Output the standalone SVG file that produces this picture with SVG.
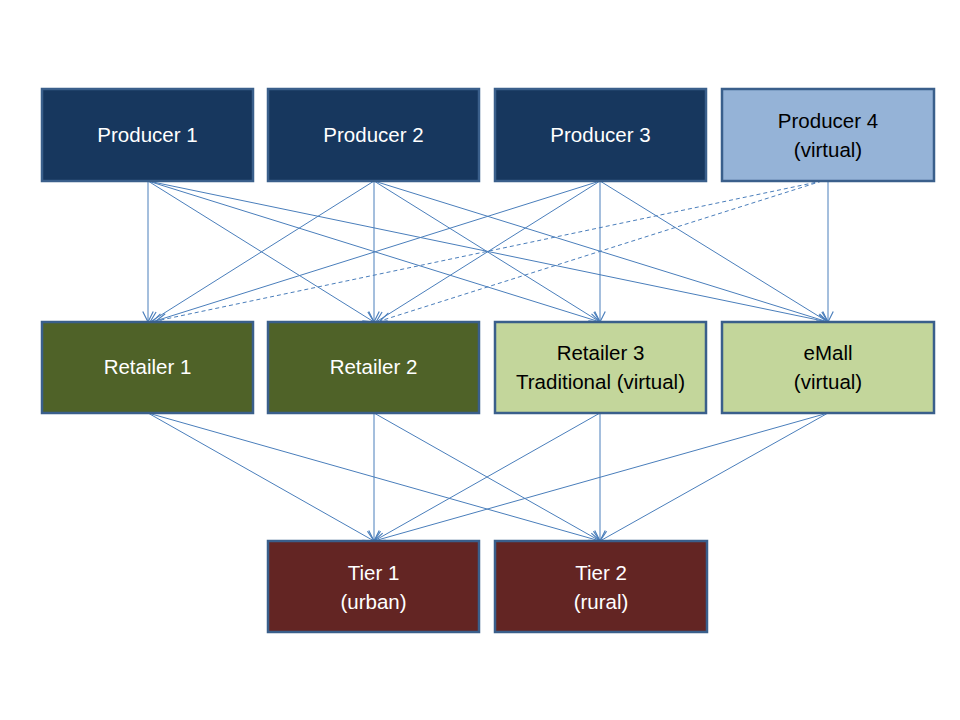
<svg xmlns="http://www.w3.org/2000/svg" width="960" height="720" viewBox="0 0 960 720">
<style>
.box{stroke:#3A5F8B;stroke-width:2.5}
.dark{fill:#17375E}
.light{fill:#95B3D7}
.rdark{fill:#4F6228}
.rlight{fill:#C3D69B}
.tier{fill:#632523}
.tw{font-family:"Liberation Sans",Arial,sans-serif;font-size:20.5px;fill:#FFFFFF;text-anchor:middle}
.tb{font-family:"Liberation Sans",Arial,sans-serif;font-size:20.5px;fill:#000000;text-anchor:middle}
.c{stroke:#4A7EBB;stroke-width:1;fill:none;marker-end:url(#ah)}
.d{stroke-dasharray:4,3}
</style>
<defs>
<marker id="ah" markerUnits="userSpaceOnUse" markerWidth="14" markerHeight="14" viewBox="-10 -6 12 12" refX="0" refY="0" orient="auto">
<path d="M-9,-4.5 L0,0 L-9,4.5" fill="none" stroke="#4A7EBB" stroke-width="1"/>
</marker>
</defs>
<rect width="960" height="720" fill="#FFFFFF"/>
<g id="connectors">
<line class="c" x1="148" y1="181" x2="148" y2="322"/>
<line class="c" x1="148" y1="181" x2="374" y2="322"/>
<line class="c" x1="148" y1="181" x2="600" y2="322"/>
<line class="c" x1="148" y1="181" x2="828" y2="322"/>
<line class="c" x1="374" y1="181" x2="150" y2="322"/>
<line class="c" x1="374" y1="181" x2="374" y2="322"/>
<line class="c" x1="374" y1="181" x2="600" y2="322"/>
<line class="c" x1="374" y1="181" x2="828" y2="322"/>
<line class="c" x1="600" y1="181" x2="152" y2="322"/>
<line class="c" x1="600" y1="181" x2="376" y2="322"/>
<line class="c" x1="600" y1="181" x2="600" y2="322"/>
<line class="c" x1="600" y1="181" x2="828" y2="322"/>
<line class="c d" x1="822" y1="181" x2="156" y2="321"/>
<line class="c d" x1="822" y1="181" x2="380" y2="321"/>
<line class="c" x1="828" y1="181" x2="828" y2="322"/>
<line class="c" x1="148" y1="413" x2="374" y2="541"/>
<line class="c" x1="148" y1="413" x2="600" y2="541"/>
<line class="c" x1="374" y1="413" x2="374" y2="541"/>
<line class="c" x1="374" y1="413" x2="600" y2="541"/>
<line class="c" x1="600" y1="413" x2="374" y2="541"/>
<line class="c" x1="600" y1="413" x2="600" y2="541"/>
<line class="c" x1="828" y1="413" x2="374" y2="541"/>
<line class="c" x1="828" y1="413" x2="600" y2="541"/>
</g>
<g id="producer1"><rect class="box dark" x="42" y="89" width="211" height="92"/><text class="tw" x="147.5" y="142">Producer 1</text></g>
<g id="producer2"><rect class="box dark" x="268" y="89" width="211" height="92"/><text class="tw" x="373.5" y="142">Producer 2</text></g>
<g id="producer3"><rect class="box dark" x="495" y="89" width="211" height="92"/><text class="tw" x="600.5" y="142">Producer 3</text></g>
<g id="producer4"><rect class="box light" x="722" y="89" width="212" height="92"/><text class="tb" x="828" y="128">Producer 4</text><text class="tb" x="828" y="157">(virtual)</text></g>
<g id="retailer1"><rect class="box rdark" x="42" y="322" width="211" height="91"/><text class="tw" x="147.5" y="374">Retailer 1</text></g>
<g id="retailer2"><rect class="box rdark" x="268" y="322" width="211" height="91"/><text class="tw" x="373.5" y="374">Retailer 2</text></g>
<g id="retailer3"><rect class="box rlight" x="495" y="322" width="211" height="91"/><text class="tb" x="600.5" y="360">Retailer 3</text><text class="tb" x="600.5" y="389">Traditional (virtual)</text></g>
<g id="emall"><rect class="box rlight" x="722" y="322" width="212" height="91"/><text class="tb" x="828" y="360">eMall</text><text class="tb" x="828" y="389">(virtual)</text></g>
<g id="tier1"><rect class="box tier" x="268" y="541" width="211" height="91"/><text class="tw" x="373.5" y="580">Tier 1</text><text class="tw" x="373.5" y="609">(urban)</text></g>
<g id="tier2"><rect class="box tier" x="495" y="541" width="212" height="91"/><text class="tw" x="601" y="580">Tier 2</text><text class="tw" x="601" y="609">(rural)</text></g>
</svg>
